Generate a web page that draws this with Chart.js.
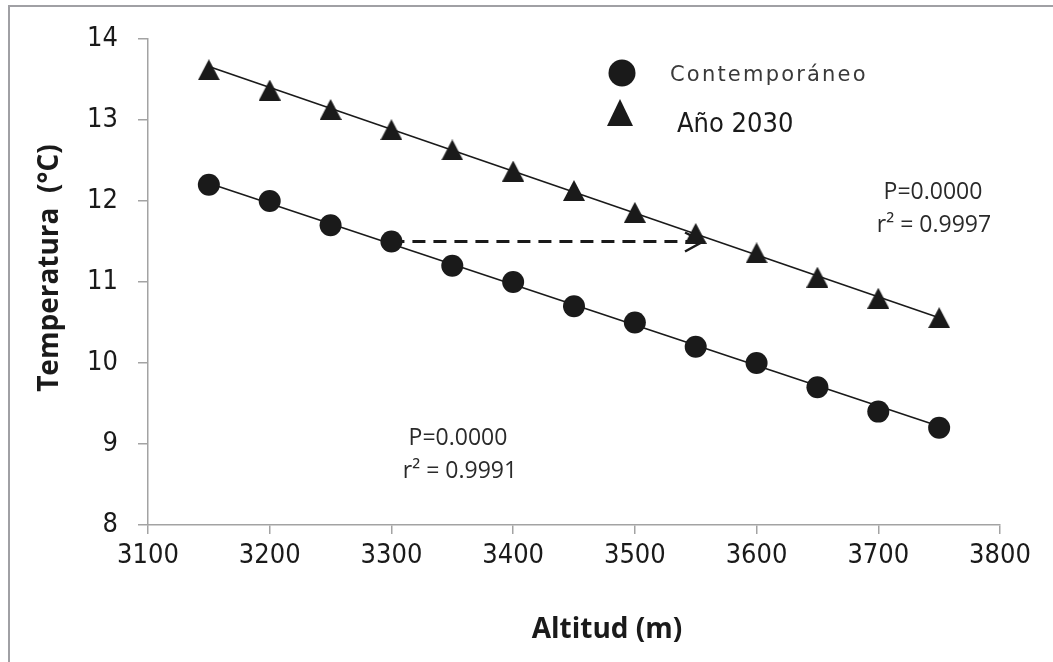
<!DOCTYPE html>
<html>
<head>
<meta charset="utf-8">
<script src="https://cdn.jsdelivr.net/npm/chart.js@4.4.1/dist/chart.umd.min.js"></script>
<style>
  html, body { margin: 0; padding: 0; background: #fff; }
  #wrap { width: 1053px; height: 662px; position: relative; }
</style>
</head>
<body>
<div id="wrap"><canvas id="chart"></canvas></div>
<script>
// datos
const altitudes = [3150, 3200, 3250, 3300, 3350, 3400, 3450, 3500, 3550, 3600, 3650, 3700, 3750];
const contemporaneo = [12.2, 12.0, 11.7, 11.5, 11.2, 11.0, 10.7, 10.5, 10.2, 10.0, 9.7, 9.4, 9.2];
const ano2030 = [13.62, 13.37, 13.13, 12.88, 12.63, 12.37, 12.13, 11.86, 11.6, 11.36, 11.06, 10.8, 10.56];

// lineas de tendencia (extremos)
const trendX = [3150, 3750];
const trendContemporaneo = [12.22, 9.22];
const trend2030 = [13.66, 10.56];

// flecha discontinua
const arrowX = [3300, 3556];
const arrowY = 11.5;

const xTicks = [3100, 3200, 3300, 3400, 3500, 3600, 3700, 3800];

const xTitle = 'Altitud (m)';
const yTitle = 'Temperatura  (°C)';

const narrow = '"Liberation Sans Narrow", "DejaVu Sans Condensed", "Arial Narrow", sans-serif';
const sans = '"Open Sans", "Noto Sans", sans-serif';
const axisGray = '#a3a3a3';

function toPoints(xs, ys) {
    return xs.map((x, i) => ({ x: x, y: ys[i] }));
}

// triangulo centrado en su caja (como Excel)
function makeTriangle(w, h) {
    const c = document.createElement('canvas');
    c.width = w; c.height = h;
    const g = c.getContext('2d');
    g.fillStyle = '#1a1a1a';
    g.beginPath();
    g.moveTo(0, h);
    g.lineTo(w / 2, 0);
    g.lineTo(w, h);
    g.closePath();
    g.fill();
    return c;
}
const triangle = makeTriangle(22, 21);

const extras = {
    id: 'extras',
    beforeDatasetsDraw(chart) {
        const ctx = chart.ctx;
        const xs = chart.scales.x, ys = chart.scales.y;
        const x0 = xs.getPixelForValue(arrowX[0]);
        const x1 = xs.getPixelForValue(arrowX[1]);
        const y = ys.getPixelForValue(arrowY);
        ctx.save();
        ctx.strokeStyle = '#1a1a1a';
        ctx.lineWidth = 3;
        ctx.setLineDash([13, 8]);
        ctx.beginPath();
        ctx.moveTo(x0, y);
        ctx.lineTo(x1 - 4, y);
        ctx.stroke();
        ctx.setLineDash([]);
        ctx.lineWidth = 2.5;
        ctx.beginPath();
        ctx.moveTo(x1 - 18, y - 9);
        ctx.lineTo(x1, y);
        ctx.lineTo(x1 - 18, y + 10);
        ctx.stroke();
        ctx.restore();
    },
    afterDraw(chart) {
        const ctx = chart.ctx;
        ctx.save();
        // marco
        ctx.strokeStyle = '#a0a0a4';
        ctx.lineWidth = 2;
        ctx.beginPath();
        ctx.moveTo(9, 662);
        ctx.lineTo(9, 6);
        ctx.lineTo(1053, 6);
        ctx.stroke();

        // titulos de ejes
        ctx.fillStyle = '#1a1a1a';
        ctx.font = 'bold 28px ' + sans;
        ctx.textAlign = 'center';
        ctx.textBaseline = 'alphabetic';
        ctx.fillText(xTitle, 607, 638);
        ctx.save();
        ctx.translate(50, 268);
        ctx.rotate(-Math.PI / 2);
        ctx.textBaseline = 'middle';
        ctx.fillText(yTitle, 0, 0);
        ctx.restore();

        // leyenda
        ctx.fillStyle = '#1a1a1a';
        ctx.beginPath();
        ctx.arc(622, 73, 13.5, 0, Math.PI * 2);
        ctx.fill();
        ctx.beginPath();
        ctx.moveTo(607, 126);
        ctx.lineTo(620, 99);
        ctx.lineTo(633, 126);
        ctx.closePath();
        ctx.fill();

        ctx.fillStyle = '#3a3a3a';
        ctx.textAlign = 'left';
        ctx.textBaseline = 'alphabetic';
        ctx.font = '21px "DejaVu Sans", sans-serif';
        ctx.letterSpacing = '2.2px';
        ctx.fillText('Contemporáneo', 670, 81);
        ctx.letterSpacing = '0px';
        ctx.fillStyle = '#1a1a1a';
        ctx.font = '27px ' + narrow;
        ctx.fillText('Año 2030', 677, 132);

        // estadisticos
        ctx.fillStyle = '#2a2a2a';
        ctx.textAlign = 'center';
        ctx.font = '23px ' + sans;
        ctx.fillText('P=0.0000', 933, 199);
        ctx.fillText('r² = 0.9997', 934, 232);
        ctx.fillText('P=0.0000', 458, 445);
        ctx.fillText('r² = 0.9991', 460, 478);
        ctx.restore();
    }
};

new Chart(document.getElementById('chart'), {
    type: 'scatter',
    data: {
        datasets: [
            {
                label: 'Contemporáneo',
                data: toPoints(altitudes, contemporaneo),
                pointStyle: 'circle',
                pointRadius: 11,
                pointHoverRadius: 11,
                backgroundColor: '#1a1a1a',
                borderWidth: 0,
                order: 1
            },
            {
                label: 'Año 2030',
                data: toPoints(altitudes, ano2030),
                pointStyle: triangle,
                pointRadius: 11,
                backgroundColor: '#1a1a1a',
                borderWidth: 0,
                order: 1
            },
            {
                type: 'line',
                data: toPoints(trendX, trendContemporaneo),
                borderColor: '#1a1a1a',
                borderWidth: 1.6,
                pointRadius: 0,
                fill: false,
                order: 2
            },
            {
                type: 'line',
                data: toPoints(trendX, trend2030),
                borderColor: '#1a1a1a',
                borderWidth: 1.6,
                pointRadius: 0,
                fill: false,
                order: 2
            }
        ]
    },
    options: {
        responsive: true,
        maintainAspectRatio: false,
        animation: false,
        layout: { padding: { left: 0, top: 39, right: 53, bottom: 0 } },
        plugins: {
            legend: { display: false },
            tooltip: { enabled: false }
        },
        scales: {
            x: {
                type: 'linear',
                min: 3100,
                max: 3800,
                afterBuildTicks: s => { s.ticks = xTicks.map(v => ({ value: v })); },
                afterFit: s => { s.height = 137; },
                ticks: {
                    color: '#1a1a1a',
                    font: { family: narrow, size: 27 },
                    padding: 6,
                    callback: v => String(v)
                },
                grid: { drawOnChartArea: false, tickLength: 9, color: axisGray, lineWidth: 1.5 },
                border: { color: axisGray, width: 1.5 }
            },
            y: {
                min: 8,
                max: 14,
                afterFit: s => { s.width = 148; },
                ticks: {
                    stepSize: 1,
                    color: '#1a1a1a',
                    font: { family: narrow, size: 27 },
                    padding: 20
                },
                grid: { drawOnChartArea: false, tickLength: 10, color: axisGray, lineWidth: 1.5 },
                border: { color: axisGray, width: 1.5 }
            }
        }
    },
    plugins: [extras]
});
</script>
</body>
</html>
